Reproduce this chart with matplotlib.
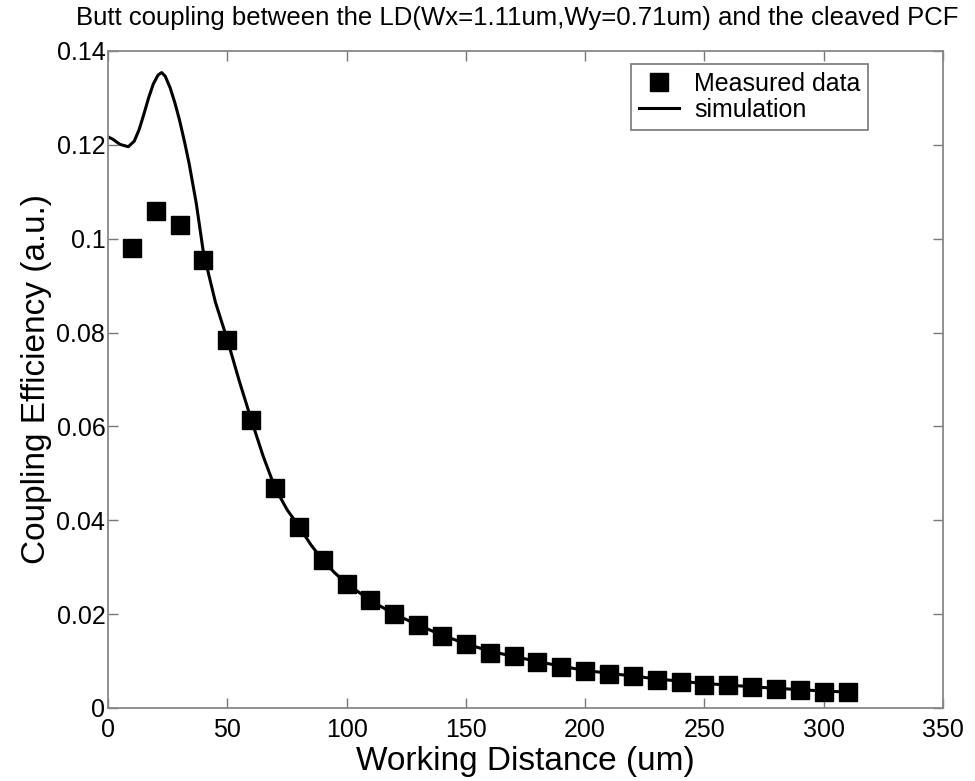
import numpy as np
from matplotlib import pyplot as plt

# measured coupling efficiency vs working distance
meas_x = [10, 20, 30, 40, 50, 60, 70, 80, 90, 100, 110, 120, 130, 140, 150, 160,
          170, 180, 190, 200, 210, 220, 230, 240, 250, 260, 270, 280, 290, 300, 310]
meas_y = [0.098, 0.106, 0.103, 0.0955, 0.0784, 0.0614, 0.0469, 0.0386, 0.0315, 0.0265,
          0.0230, 0.0200, 0.0177, 0.0154, 0.0136, 0.0117, 0.0111, 0.0099, 0.0088, 0.0078,
          0.0073, 0.0068, 0.0060, 0.0056, 0.0050, 0.0048, 0.0044, 0.0041, 0.0038, 0.0035, 0.0034]

# simulation curve
sim_x = [0, 2, 5, 8.5, 11, 13, 15, 17, 19, 21, 22.5, 24, 26, 28, 30, 32, 34, 37, 40,
         45, 50, 55, 60, 65, 70, 75, 80, 85, 90, 95, 100, 110, 120, 130, 140, 150,
         160, 170, 180, 190, 200, 210, 220, 230, 240, 250, 260, 270, 280, 290, 300, 310]
sim_y = [0.1217, 0.1212, 0.1201, 0.1196, 0.1208, 0.1232, 0.1265, 0.1300, 0.1330, 0.1349,
         0.1354, 0.1346, 0.1322, 0.1290, 0.1252, 0.1208, 0.1160, 0.1075, 0.0970,
         0.0865, 0.0785, 0.0697, 0.0615, 0.0537, 0.0469, 0.0423, 0.0387, 0.0348, 0.0315,
         0.0288, 0.0265, 0.0229, 0.0200, 0.0177, 0.0155, 0.0137, 0.0121, 0.0110, 0.0099,
         0.0089, 0.0080, 0.0074, 0.0068, 0.0062, 0.0057, 0.0052, 0.0049, 0.0045, 0.0042,
         0.0039, 0.0036, 0.0034]

xticks = [0, 50, 100, 150, 200, 250, 300, 350]
yticks = [0, 0.02, 0.04, 0.06, 0.08, 0.1, 0.12, 0.14]
ytick_labels = ["0", "0.02", "0.04", "0.06", "0.08", "0.1", "0.12", "0.14"]

plt.rcParams['font.family'] = ['Liberation Sans', 'DejaVu Sans']

fig = plt.figure(figsize=(9.75, 7.81), dpi=100)
ax = fig.add_axes([0.1108, 0.0935, 0.8564, 0.8412])

ax.plot(meas_x, meas_y, 's', color='black', ms=13, label='Measured data')
ax.plot(sim_x, sim_y, '-', color='black', lw=2.2, label='simulation')

ax.set_xlim(0, 350)
ax.set_ylim(0, 0.14)
ax.set_xticks(xticks)
ax.set_yticks(yticks)
ax.set_yticklabels(ytick_labels)
ax.tick_params(direction='in', top=True, right=True, length=7, width=1,
               color='#777777', labelsize=18)
ax.tick_params(axis='x', pad=7)
ax.tick_params(axis='y', pad=2)
for s in ax.spines.values():
    s.set_color('#888888')
    s.set_linewidth(1.3)

ax.set_xlabel('Working Distance (um)', fontsize=24, labelpad=3)
ax.set_ylabel('Coupling Efficiency (a.u.)', fontsize=24, labelpad=3)

fig.text(0.531, 0.977, 'Butt coupling between the LD(Wx=1.11um,Wy=0.71um) and the cleaved PCF',
         ha='center', va='center', fontsize=18.5)

leg = ax.legend(loc='upper right', bbox_to_anchor=(0.91, 0.98), borderaxespad=0,
                fontsize=18, frameon=True, fancybox=False, borderpad=0.3,
                handlelength=1.6, handletextpad=0.6, labelspacing=0.1)
leg.get_frame().set_edgecolor('#555555')
leg.get_frame().set_linewidth(1.2)

fig.savefig('out.png', dpi=100)
